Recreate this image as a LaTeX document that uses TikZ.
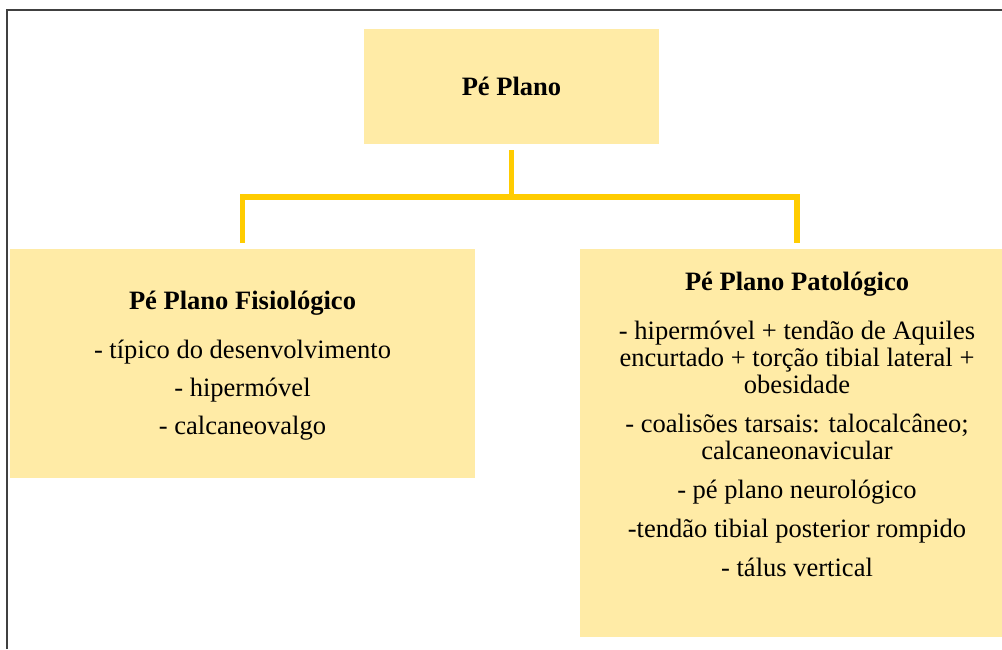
\documentclass[tikz,border=0pt]{standalone}
\usepackage{fontspec}
\setmainfont{Liberation Serif}
\usepackage{xcolor}
\definecolor{boxfill}{HTML}{FFEBA6}
\definecolor{linkgold}{HTML}{FFCC00}
\definecolor{framegray}{HTML}{404040}

\begin{document}
\begin{tikzpicture}[x=0.75pt,y=-0.75pt,
		box/.style={fill=boxfill,draw=none,inner sep=0pt},
		txt/.style={font=\fontsize{19.9pt}{20.3pt}\selectfont,align=center,inner sep=0pt,anchor=north},
		link/.style={draw=linkgold,line width=3.9pt}]
	\useasboundingbox (0,0) rectangle (1002,649);
	\draw[framegray,line width=1.5pt] (7,649) -- (7,10) -- (1002,10);

	\node[box,minimum width=221.25pt,minimum height=86.25pt,font=\fontsize{19.9pt}{20.3pt}\selectfont] (root) at (511.5,86.5) {\textbf{Pé Plano}};

	\node[box,minimum width=348.75pt,minimum height=171.75pt] (fisio) at (242.5,363.5) {};
	\node[txt] (fisioTxt) at ([yshift=-31.8pt]fisio.north) {\textbf{Pé Plano Fisiológico}\\[16.5pt]
		- típico do desenvolvimento\\[7.9pt]
		- hipermóvel\\[7.9pt]
		- calcaneovalgo};

	\node[box,minimum width=325.5pt,minimum height=291pt] (pato) at (797,443) {};
	\node[txt] (patoTxt) at ([yshift=-17.5pt]pato.north) {\textbf{Pé Plano Patológico}\\[16.5pt]
		- hipermóvel + tendão de Aquiles\\
		encurtado + torção tibial lateral +\\
		obesidade\\[8.8pt]
		- coalisões tarsais: talocalcâneo;\\
		calcaneonavicular\\[8.8pt]
		- pé plano neurológico\\[8.8pt]
		-tendão tibial posterior rompido\\[8.8pt]
		- tálus vertical};

	\coordinate (fork) at (511.5,197);
	\draw[link,shorten <=4.5pt] (root.south) -- (fork);
	\draw[link,shorten <=4.5pt,shorten >=4.5pt] (fisio.north) |- (fork) -| (pato.north);
\end{tikzpicture}
\end{document}
